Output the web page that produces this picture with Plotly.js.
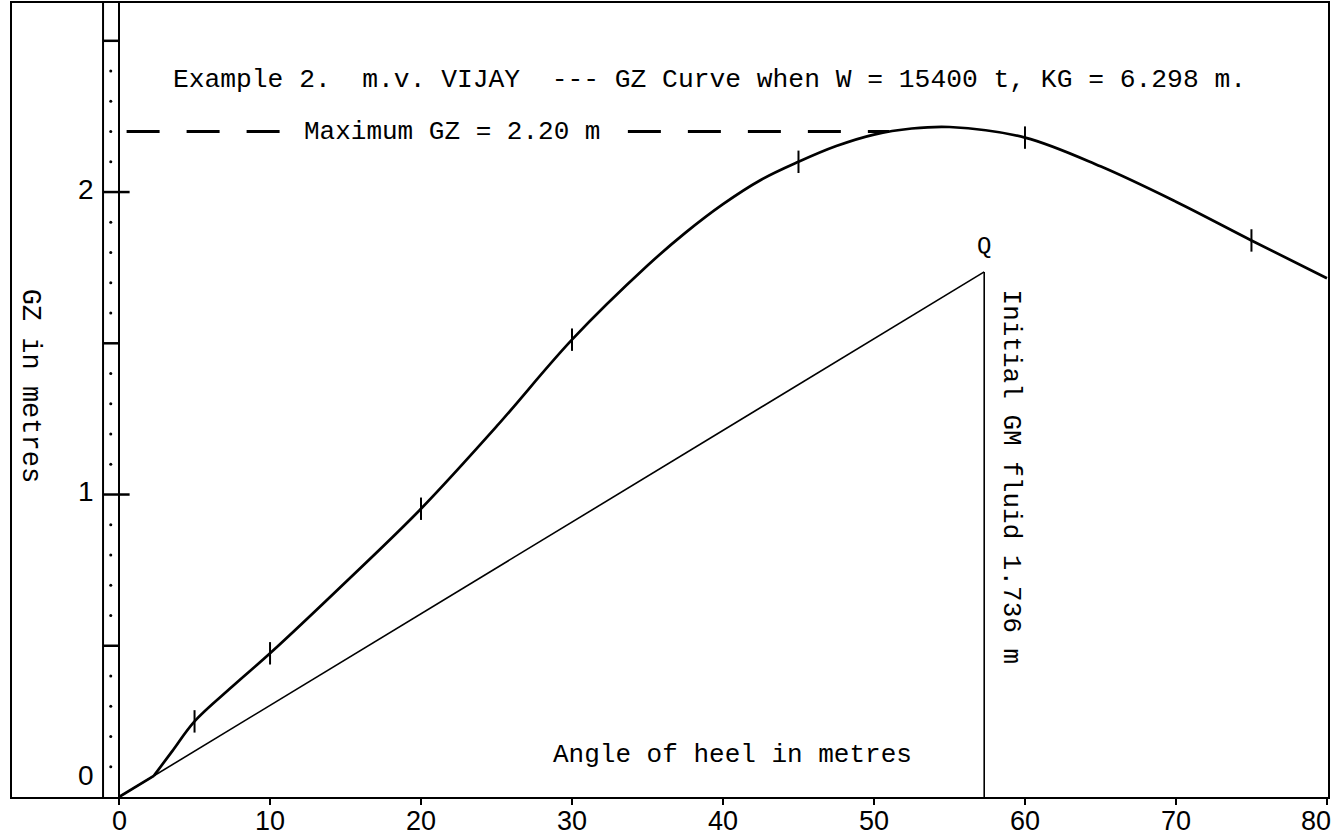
<!DOCTYPE html>
<html>
<head>
<meta charset="utf-8">
<script src="https://cdn.plot.ly/plotly-3.0.1.min.js"></script>
<style>html,body{margin:0;padding:0;background:#fff;}#chart{width:1332px;height:837px;}</style>
</head>
<body>
<div id="chart"></div>
<script>
// ---- data ----
const startAngle = [0, 2.3];
const startGZ = [0, 0.07];
const curveAngle = [2.3, 3.5, 5, 7.5, 10, 15, 20, 25, 30, 35, 37.5, 40, 42.5, 45, 47.5, 50, 52.5, 55, 60, 65, 70, 75, 80];
const curveGZ = [0.07, 0.15, 0.25, 0.365, 0.475, 0.71, 0.953, 1.225, 1.512, 1.757, 1.865, 1.96, 2.04, 2.10, 2.152, 2.19, 2.21, 2.215, 2.18, 2.085, 1.968, 1.84, 1.715];
const markAngle = [5, 10, 20, 30, 45, 60, 75];
const markGZ = [0.25, 0.475, 0.953, 1.512, 2.10, 2.18, 1.84];
const radianAngle = 57.3;
const initialGM = 1.736;
const maxGZ = 2.20;
const maxLineLeft = [0.5, 11.6];
const maxLineRight = [33.7, 51];
const xTicks = [0, 10, 20, 30, 40, 50, 60, 70, 80];
const yTicks = [0, 1, 2];
const scaleBars = [0.5, 1, 1.5, 2, 2.5];
const scaleMajor = [1, 2];
const scaleDots = [0.1,0.2,0.3,0.4,0.6,0.7,0.8,0.9,1.1,1.2,1.3,1.4,1.6,1.7,1.8,1.9,2.1,2.2,2.3,2.4];
const titleText = "Example 2.  m.v. VIJAY  --- GZ Curve when W = 15400 t, KG = 6.298 m.";
const maxText = "Maximum GZ = 2.20 m";
const gmText = "Initial GM fluid 1.736 m";
const xTitle = "Angle of heel in metres";
const yTitle = "GZ in metres";

// ---- layout constants ----
const X0 = -7.09, X1 = 80.07, Y0 = 0, Y1 = 2.625;
const colLeft = -1.06, dotX = -0.55, majorTickEnd = 0.7;
const mono = "Liberation Mono, DejaVu Sans Mono, monospace";
const sans = "Liberation Sans, Arial, sans-serif";

function segs(vals, xa, xb) {
  const x = [], y = [];
  vals.forEach(v => { x.push(xa, xb, null); y.push(v, v, null); });
  return {x, y};
}
const bars = segs(scaleBars, colLeft, 0);
const majors = segs(scaleMajor, 0, majorTickEnd);
const black = '#000';

const traces = [
  {x: [colLeft, colLeft], y: [Y0, Y1], mode: 'lines', line: {color: black, width: 2}},
  {x: bars.x, y: bars.y, mode: 'lines', line: {color: black, width: 2.5}},
  {x: majors.x, y: majors.y, mode: 'lines', line: {color: black, width: 2.5}},
  {x: scaleDots.map(() => dotX), y: scaleDots, mode: 'markers', marker: {color: black, size: 3}},
  {x: [0, radianAngle], y: [0, initialGM], mode: 'lines', line: {color: black, width: 1.6}},
  {x: [radianAngle, radianAngle], y: [initialGM, 0], mode: 'lines', line: {color: black, width: 1.6}},
  {x: maxLineLeft, y: [maxGZ, maxGZ], mode: 'lines', line: {color: black, width: 3, dash: '33px,27px'}},
  {x: maxLineRight, y: [maxGZ, maxGZ], mode: 'lines', line: {color: black, width: 3, dash: '33px,27px'}},
  {x: startAngle, y: startGZ, mode: 'lines', line: {color: black, width: 2.7}},
  {x: curveAngle, y: curveGZ, mode: 'lines', line: {color: black, width: 2.7, shape: 'spline', smoothing: 1}},
  {x: markAngle, y: markGZ, mode: 'markers', marker: {symbol: 'line-ns', size: 16, line: {color: black, width: 2}}}
];

const annotations = [
  {x: 22.05, y: maxGZ, text: maxText, showarrow: false, bgcolor: '#fff',
   font: {family: mono, size: 26, color: black}, xanchor: 'center', yanchor: 'middle', borderpad: 1},
  {x: radianAngle, y: initialGM, text: "Q", showarrow: false, yanchor: 'bottom', yshift: 10,
   font: {family: mono, size: 24, color: black}},
  {x: 59.1, y: 1.058, text: gmText, textangle: 90, showarrow: false,
   font: {family: mono, size: 26, color: black}},
  {x: 40.6, y: 0.139, text: xTitle, showarrow: false,
   font: {family: mono, size: 26, color: black}},
  {x: -5.9, y: 1.36, text: yTitle, textangle: 90, showarrow: false,
   font: {family: mono, size: 27, color: black}}
];
yTicks.forEach((v, i) => {
  annotations.push({x: -1.55, y: v, text: String(v), showarrow: false, xanchor: 'right', yanchor: 'middle',
    yshift: i === 0 ? 22 : 3, font: {family: sans, size: 28, color: black}});
});
xTicks.forEach((v, i) => {
  const last = i === xTicks.length - 1;
  annotations.push({x: v, y: 0, text: String(v), showarrow: false, xanchor: last ? 'right' : 'center', yanchor: 'top',
    xshift: last ? 6 : 0, yshift: -7, font: {family: sans, size: 27, color: black}});
});

const layout = {
  width: 1332, height: 837,
  margin: {l: 12, r: 4, t: 3, b: 40},
  paper_bgcolor: '#fff', plot_bgcolor: '#fff',
  showlegend: false,
  title: {text: titleText, x: 0.530, y: 1 - 78/837, xref: 'paper', yref: 'container',
          xanchor: 'center', yanchor: 'middle', font: {family: mono, size: 26.3, color: black}},
  xaxis: {range: [X0, X1], tickvals: xTicks, showticklabels: false, ticks: 'outside', ticklen: 6, tickwidth: 2,
          tickcolor: black, showgrid: false, zeroline: true, zerolinecolor: black, zerolinewidth: 2,
          showline: true, linecolor: black, linewidth: 2, mirror: true},
  yaxis: {range: [Y0, Y1], showticklabels: false, ticks: '', showgrid: false, zeroline: false,
          showline: true, linecolor: black, linewidth: 2, mirror: true},
  annotations: annotations
};

Plotly.newPlot('chart', traces, layout, {displayModeBar: false, staticPlot: true});
</script>
</body>
</html>
